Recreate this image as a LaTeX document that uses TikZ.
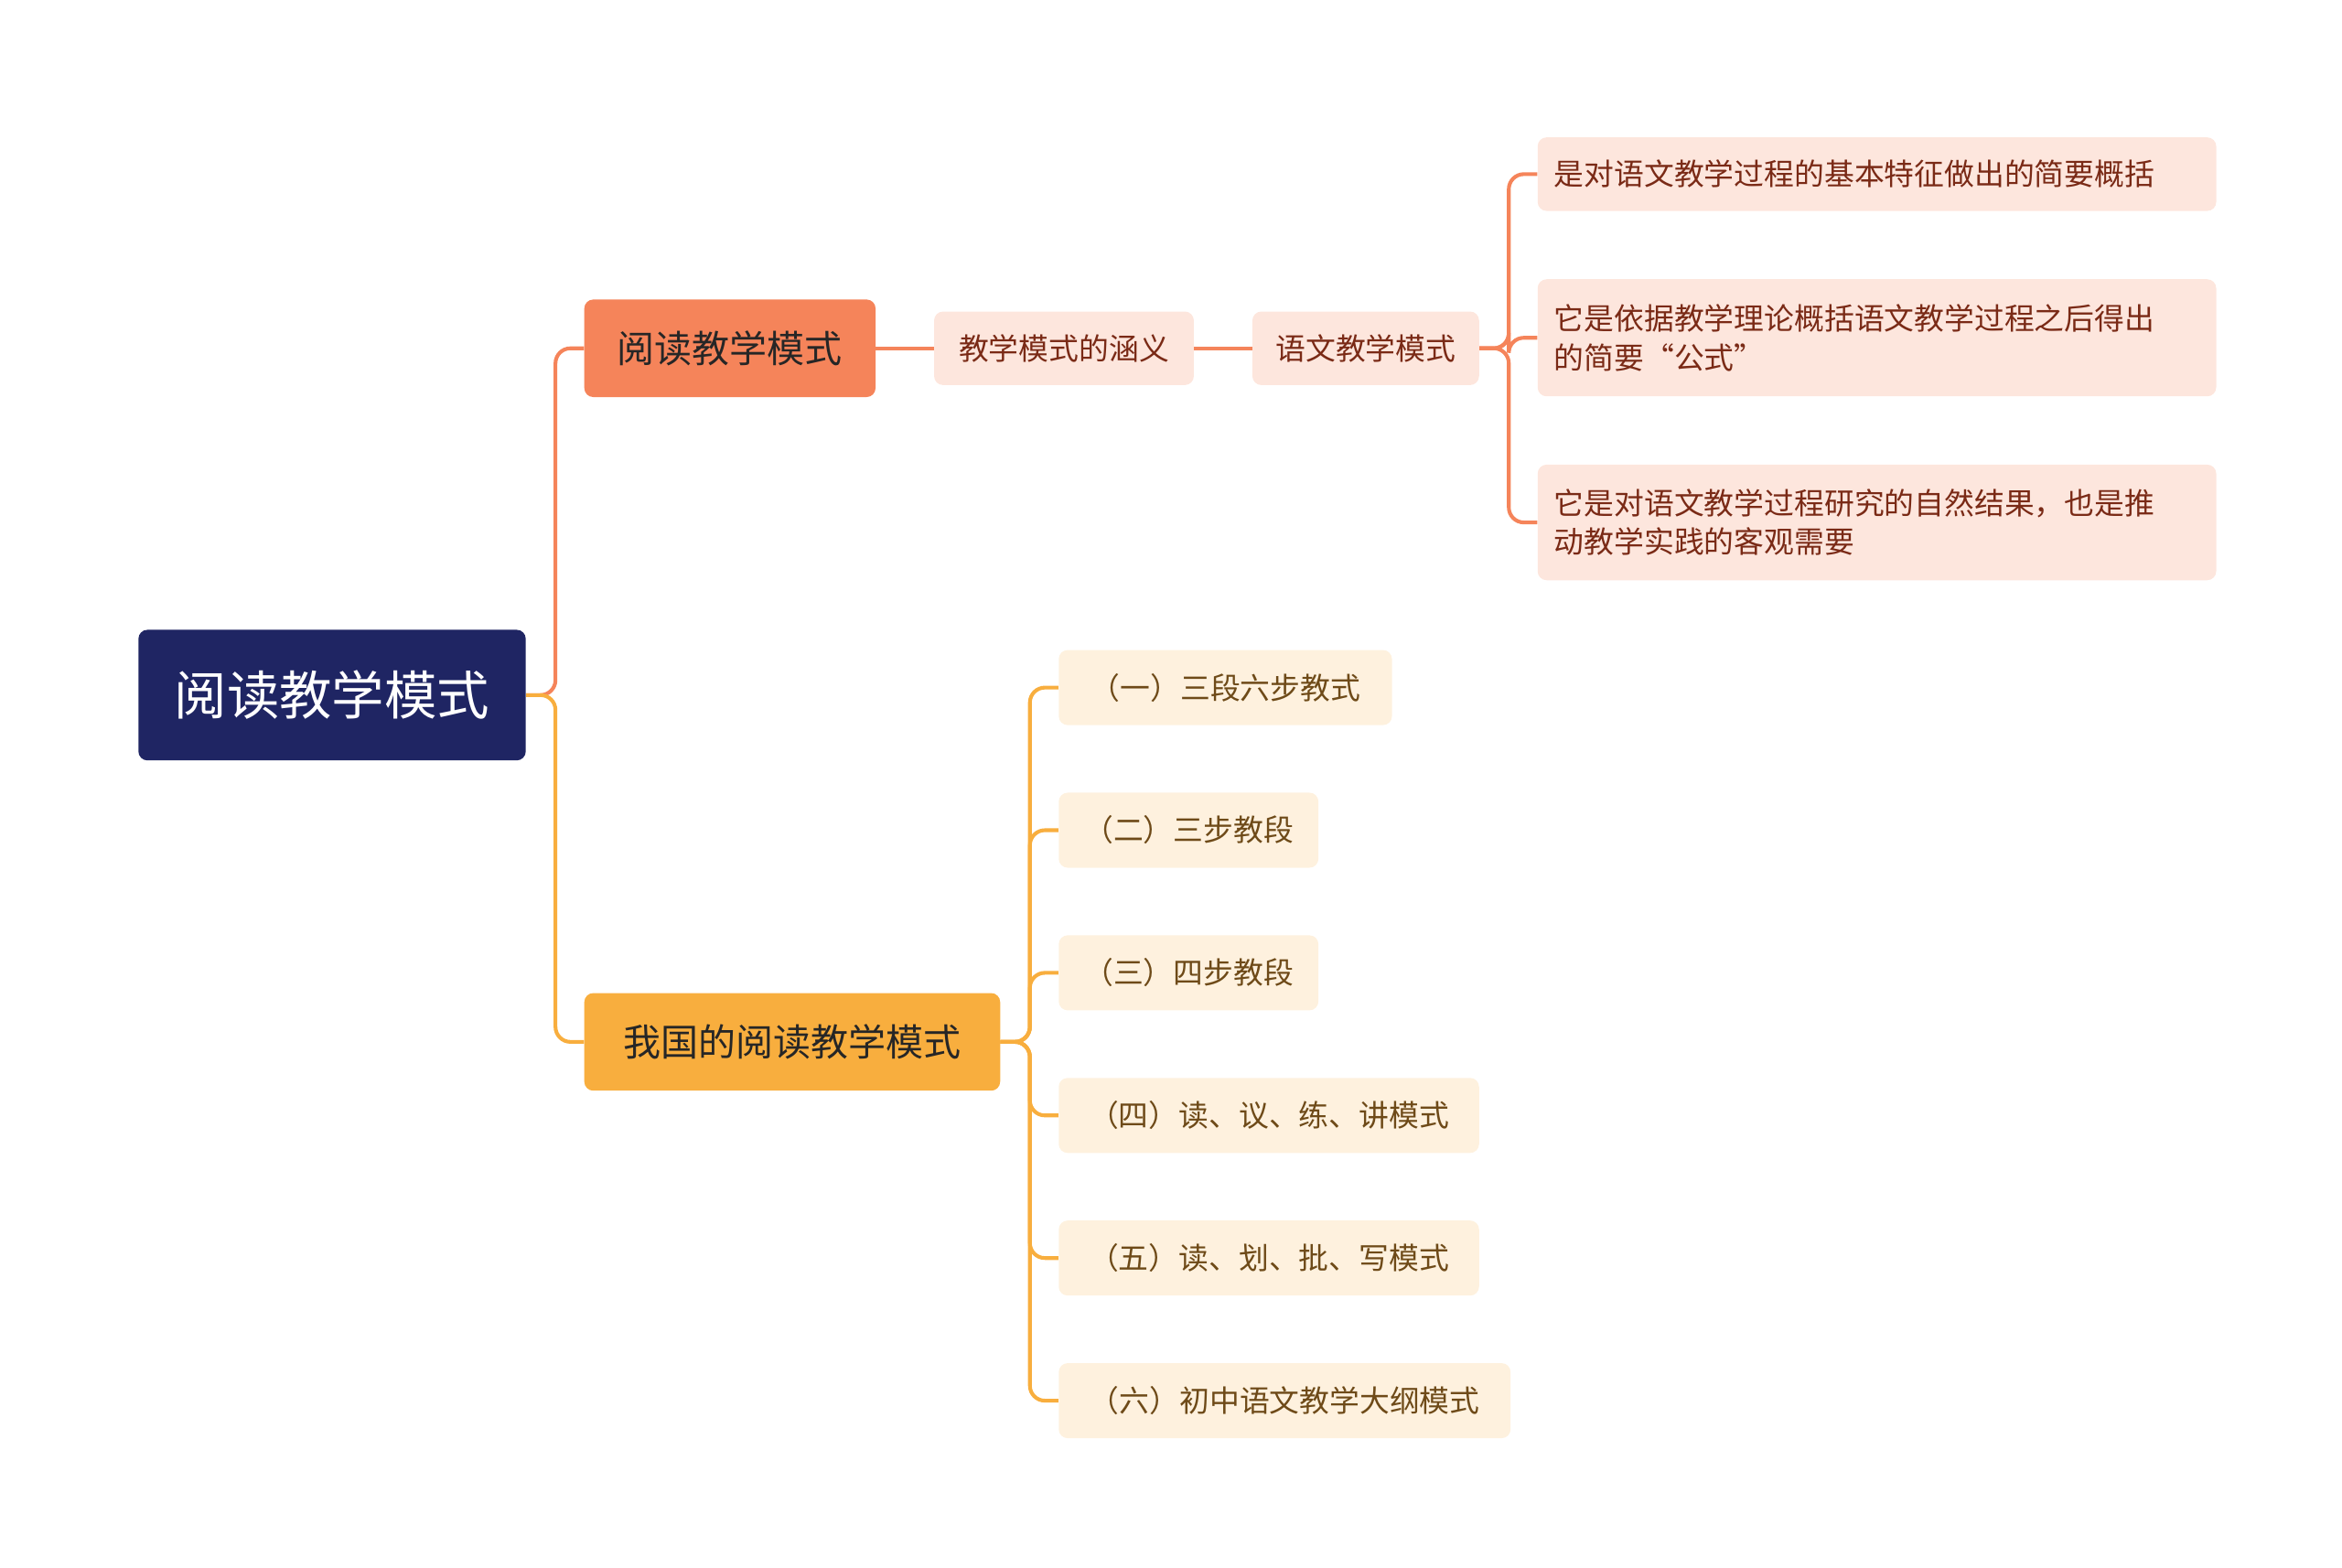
\documentclass[tikz,border=0pt]{standalone}
\usepackage{fontspec}
\setmainfont{Noto Sans CJK SC}
\begin{document}
\begin{tikzpicture}[x=1pt,y=-1pt,
 base/.style={rounded corners=6pt,inner sep=0pt,anchor=west,font=\fontsize{20}{26}\selectfont},
 rootbox/.style={base,fill=rootc,text=white,minimum height=87pt,text width=258pt,align=center,font=\fontsize{35}{40}\selectfont},
 abox/.style={base,fill=ac,text=black!85,minimum height=65pt,font=\fontsize{25}{30}\selectfont,align=center},
 bbox/.style={base,fill=bc,text=black!85,minimum height=65pt,font=\fontsize{25}{30}\selectfont,align=center},
 apink/.style={base,fill=pinkc,text=redtxt,minimum height=49pt,align=center},
 aleaf/.style={base,fill=pinkc,text=redtxt,text width=430pt,inner xsep=11pt,align=left},
 bleaf/.style={base,fill=creamc,text=browntxt,minimum height=50pt,align=left},
 oline/.style={draw=ac,line width=2.5pt,rounded corners=10pt},
 yline/.style={draw=bc,line width=2.5pt,rounded corners=10pt}]
\definecolor{rootc}{HTML}{1F2563}
\definecolor{ac}{HTML}{F5845A}
\definecolor{bc}{HTML}{F8AE3E}
\definecolor{pinkc}{HTML}{FDE6DD}
\definecolor{creamc}{HTML}{FEF1DE}
\definecolor{redtxt}{HTML}{7A2A16}
\definecolor{browntxt}{HTML}{6E4A18}
\useasboundingbox (0,0) rectangle (1560,1044);
\node[rootbox] (r) at (92,463) {阅读教学模式};
\node[abox,text width=194pt] (a) at (389,232) {阅读教学模式};
\node[bbox,text width=277pt] (b) at (389,694) {我国的阅读教学模式};
\node[apink,text width=173pt] (a1) at (622,232) {教学模式的涵义};
\node[apink,text width=151pt] (a2) at (834,232) {语文教学模式};
\node[aleaf,minimum height=49pt] (l1) at (1024,116) {是对语文教学过程的基本特征做出的简要概括};
\node[aleaf,minimum height=78pt] (l2) at (1024,225) {它是依据教学理论概括语文教学过程之后得出\\的简要“公式”};
\node[aleaf,minimum height=77pt] (l3) at (1024,348) {它是对语文教学过程研究的自然结果，也是推\\动教学实践的客观需要};
\node[bleaf,text width=222pt,align=center] (b1) at (705,458) {（一）三段六步教式};
\node[bleaf,text width=173pt,align=center] (b2) at (705,553) {（二）三步教段};
\node[bleaf,text width=173pt,align=center] (b3) at (705,648) {（三）四步教段};
\node[bleaf,text width=280pt,align=center] (b4) at (705,743) {（四）读、议、练、讲模式};
\node[bleaf,text width=280pt,align=center] (b5) at (705,838) {（五）读、划、批、写模式};
\node[bleaf,text width=301pt,align=center] (b6) at (705,933) {（六）初中语文教学大纲模式};
\draw[oline] (r.east) -- (370,463) |- (a.west);
\draw[yline] (r.east) -- (370,463) |- (b.west);
\draw[oline] (a.east) -- (a1.west);
\draw[oline] (a1.east) -- (a2.west);
\foreach \n in {l1,l2,l3} \draw[oline] (a2.east) -- (1005,232) |- (\n.west);
\foreach \n in {b1,b2,b3,b4,b5,b6} \draw[yline] (b.east) -- (686,694) |- (\n.west);
\end{tikzpicture}
\end{document}
